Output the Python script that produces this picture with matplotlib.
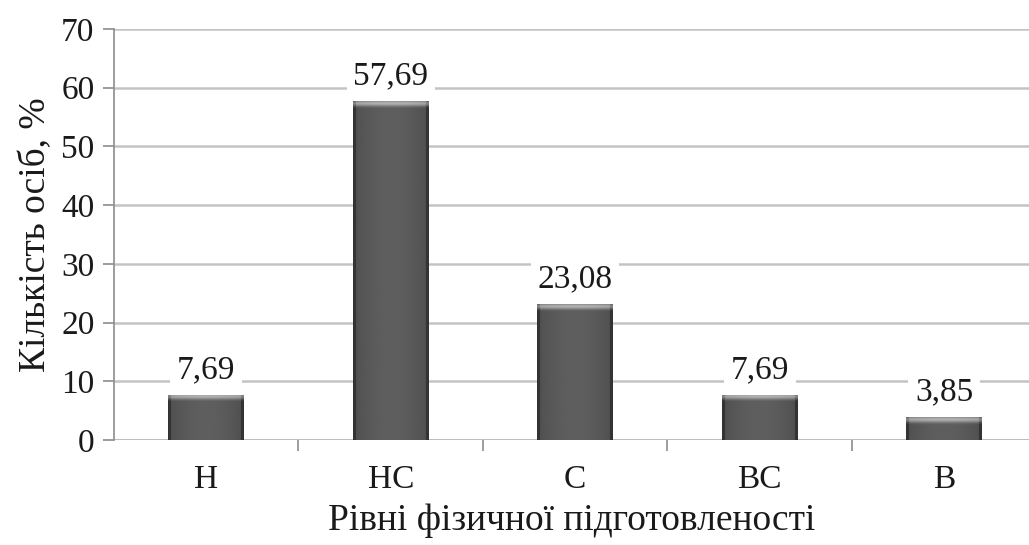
import numpy as np
import matplotlib
matplotlib.use("Agg")
import matplotlib.pyplot as plt

categories = ["Н", "НС", "С", "ВС", "В"]
values = [7.69, 57.69, 23.08, 7.69, 3.85]
labels = ["7,69", "57,69", "23,08", "7,69", "3,85"]
yticks = [0, 10, 20, 30, 40, 50, 60, 70]

plt.rcParams["font.family"] = ["Liberation Serif", "DejaVu Serif"]

fig = plt.figure(figsize=(10.29, 5.45), dpi=100)
ax = fig.add_axes([114 / 1029, 105 / 545, 915 / 1029, 411 / 545])

x = np.arange(len(categories))
bars = ax.bar(x, values, width=0.41, color="#505050", zorder=2)

ax.set_xlim(-0.5, 4.46)
ax.set_ylim(0, 70)
ax.set_yticks(yticks)
ax.set_xticks(x)
ax.set_xticklabels(categories)
ax.set_xticks(np.arange(0.5, 4.5, 1), minor=True)

# shading for the bars: dark edges, lighter middle, bevel at top
px_per_unit = 411 / 70
for b, v in zip(bars, values):
    rows = max(int(v * px_per_unit), 8)
    cols = 75
    u = np.linspace(-1, 1, cols)
    horiz = 0.37 - 0.06 * u ** 2 - 0.05 * (np.abs(u) > 0.93)
    img = np.tile(horiz, (rows, 1))
    img[:7, :] += np.array([0.22, 0.30, 0.32, 0.27, 0.18, 0.09, 0.03])[:, None]
    img[:, :3] -= 0.06
    img[:, -3:] -= 0.06
    x0, y0 = b.get_x(), b.get_y()
    im = ax.imshow(img, cmap="gray", vmin=0, vmax=1, aspect="auto",
                   extent=(x0, x0 + b.get_width(), y0, y0 + b.get_height()),
                   zorder=3, interpolation="bilinear")
    im.set_clip_path(b)

for xi, v, lab in zip(x, values, labels):
    ax.annotate(lab, (xi, v), xytext=(0, 7), textcoords="offset points",
                ha="center", va="bottom", fontsize=24, color="#1a1a1a",
                bbox=dict(boxstyle="square,pad=0.2", fc="white", ec="none"),
                zorder=4)

ax.grid(axis="y", color="#c4c4c4", linewidth=1.8, zorder=0)
ax.set_axisbelow(True)
for s in ["top", "right", "bottom"]:
    ax.spines[s].set_visible(False)
ax.spines["left"].set_color("#8c8c8c")
ax.spines["left"].set_linewidth(1.2)
ax.axhline(0, color="#b8b8b8", linewidth=1.8, zorder=1)

ax.tick_params(axis="y", length=8, width=1.2, color="#8c8c8c",
               labelsize=24, pad=6, labelcolor="#1a1a1a")
ax.tick_params(axis="x", which="major", length=0, labelsize=24, pad=18,
               labelcolor="#1a1a1a")
ax.tick_params(axis="x", which="minor", length=8, width=1.2, color="#8c8c8c")

ax.set_ylabel("Кількість осіб, %", fontsize=27, color="#1a1a1a", labelpad=6)
ax.set_xlabel("Рівні фізичної підготовленості", fontsize=27,
              color="#1a1a1a", labelpad=6)

fig.savefig("out.png", dpi=100)
